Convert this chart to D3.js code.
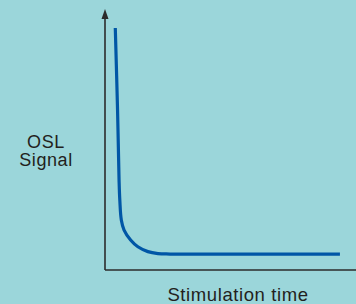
<!DOCTYPE html>
<html lang="en">
<head>
<meta charset="utf-8">
<title>OSL decay</title>
<script src="https://cdn.jsdelivr.net/npm/d3@7"></script>
<style>
  body { margin: 0; background: #9bd6da; }
  svg text { font-family: "Liberation Sans", Arial, sans-serif; fill: #231f20; letter-spacing: 0.6px; }
</style>
</head>
<body>
<script>
// stimulation time (arbitrary units) and OSL signal (arbitrary units)
var time   = [4.1, 5.0, 5.6, 5.9, 6.5, 7.6, 10.2, 13.1, 17.1, 21.1, 25.9, 93.6];
var signal = [100, 66.1, 37.2, 28.9, 20.7, 16.5, 12.4, 9.6, 7.6, 6.8, 6.6, 6.6];
var yLabel = ["OSL", "Signal"];
var xLabel = "Stimulation time";

var width = 356, height = 304;
var margin = {top: 28, right: 0, bottom: 34, left: 105};

var data = time.map(function(t, i) { return {x: t, y: signal[i]}; });

var svg = d3.select("body").append("svg")
  .attr("width", width)
  .attr("height", height);

var x = d3.scaleLinear().domain([0, 100]).range([margin.left, width - margin.right]);
var y = d3.scaleLinear().domain([0, 100]).range([height - margin.bottom, margin.top]);

// axes
var axisColor = "#2b2b2b";
svg.append("line")
  .attr("x1", x(0)).attr("x2", x(100))
  .attr("y1", y(0)).attr("y2", y(0))
  .attr("stroke", axisColor).attr("stroke-width", 1.6);
svg.append("line")
  .attr("x1", x(0)).attr("x2", x(0))
  .attr("y1", y(0)).attr("y2", 16)
  .attr("stroke", axisColor).attr("stroke-width", 1.6);
svg.append("path")
  .attr("d", "M" + x(0) + ",9 L" + (x(0) + 3.5) + ",19 L" + (x(0) - 3.5) + ",19 Z")
  .attr("fill", axisColor);

// decay curve
var line = d3.line()
  .x(function(d) { return x(d.x); })
  .y(function(d) { return y(d.y); })
  .curve(d3.curveCatmullRom.alpha(0.5));

svg.append("path")
  .datum(data)
  .attr("d", line)
  .attr("fill", "none")
  .attr("stroke", "#0056a6")
  .attr("stroke-width", 3.2);

// labels
svg.append("text")
  .attr("text-anchor", "middle")
  .attr("font-size", 18)
  .selectAll("tspan").data(yLabel).enter().append("tspan")
  .attr("x", 46)
  .attr("y", function(d, i) { return 148 + i * 18; })
  .text(function(d) { return d; });

svg.append("text")
  .attr("x", 238).attr("y", 301)
  .attr("text-anchor", "middle")
  .attr("font-size", 18.5)
  .text(xLabel);
</script>
</body>
</html>
